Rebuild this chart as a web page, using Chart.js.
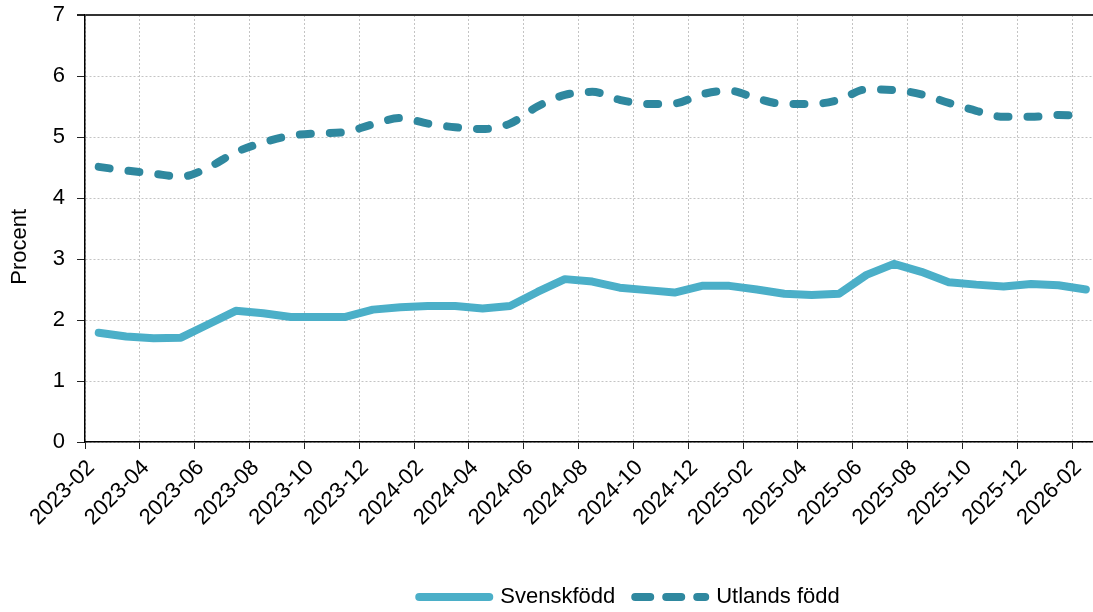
<!DOCTYPE html>
<html>
<head>
<meta charset="utf-8">
<script src="https://cdn.jsdelivr.net/npm/chart.js@4"></script>
<style>
  html, body { margin: 0; padding: 0; background: #fff; }
</style>
</head>
<body>
<canvas id="myChart" width="1093" height="612"></canvas>
<script>
const months = [
  "2023-02", "2023-03", "2023-04", "2023-05", "2023-06", "2023-07", "2023-08", "2023-09",
  "2023-10", "2023-11", "2023-12", "2024-01", "2024-02", "2024-03", "2024-04", "2024-05",
  "2024-06", "2024-07", "2024-08", "2024-09", "2024-10", "2024-11", "2024-12", "2025-01",
  "2025-02", "2025-03", "2025-04", "2025-05", "2025-06", "2025-07", "2025-08", "2025-09",
  "2025-10", "2025-11", "2025-12", "2026-01", "2026-02"
];
const svenskfodd = [
  1.79, 1.73, 1.70, 1.71, 1.93, 2.15, 2.11, 2.05, 2.05, 2.05, 2.17, 2.21, 2.23,
  2.23, 2.19, 2.23, 2.46, 2.67, 2.63, 2.53, 2.49, 2.45, 2.56, 2.56, 2.50, 2.43,
  2.41, 2.43, 2.74, 2.92, 2.79, 2.62, 2.58, 2.55, 2.59, 2.57, 2.50
];
const utlandsFodd = [
  4.51, 4.45, 4.40, 4.35, 4.50, 4.75, 4.91, 5.02, 5.06, 5.08, 5.21, 5.31, 5.22,
  5.16, 5.13, 5.22, 5.50, 5.69, 5.74, 5.61, 5.54, 5.55, 5.70, 5.76, 5.63, 5.54,
  5.54, 5.61, 5.78, 5.77, 5.70, 5.56, 5.43, 5.33, 5.33, 5.36, 5.35
];
const seriesNames = ["Svenskfödd", "Utlands född"];

const font = { family: "'Liberation Sans', Arial, sans-serif", size: 22 };
// each value sits in the middle of its month slot
const toPoints = vals => vals.map((v, i) => ({ x: i + 0.5, y: v }));

const legendDash = [[], [15, 16]];

// nudge the legend to the right and down a bit, like the original
const legendShift = {
  id: "legendShift",
  afterLayout(chart) {
    const lg = chart.legend;
    lg.left += 83;
    lg.right += 83;
    lg.top += 6;
    lg.bottom += 6;
  },
};

const data = {
  datasets: [
    {
      label: seriesNames[0],
      data: toPoints(svenskfodd),
      borderColor: "#4bafc8",
      borderWidth: 8,
      borderCapStyle: "round",
      borderJoinStyle: "round",
      pointRadius: 0,
      tension: 0,
    },
    {
      label: seriesNames[1],
      data: toPoints(utlandsFodd),
      borderColor: "#2f889f",
      borderWidth: 8,
      borderDash: [11, 19],
      borderCapStyle: "round",
      pointRadius: 0,
      cubicInterpolationMode: "monotone",
    },
  ],
};

const config = {
  type: "line",
  data: data,
  plugins: [legendShift],
  options: {
    responsive: false,
    animation: false,
    layout: { padding: { top: 15, right: 0, bottom: 0, left: 0 } },
    plugins: {
      tooltip: { enabled: false },
      legend: {
        position: "bottom",
        labels: {
          usePointStyle: true,
          pointStyle: "line",
          pointStyleWidth: 70,
          boxHeight: 8,
          font: font,
          color: "#000",
          padding: 20,
          generateLabels: (chart) => {
            const items = Chart.defaults.plugins.legend.labels.generateLabels(chart);
            items.forEach((it, i) => {
              it.strokeStyle = chart.data.datasets[i].borderColor;
              it.lineWidth = 8;
              it.lineCap = "round";
              it.lineDash = legendDash[i];
            });
            return items;
          },
        },
      },
    },
    scales: {
      x: {
        type: "linear",
        min: 0,
        max: 36.76,
        afterBuildTicks: (scale) => {
          scale.ticks = months
            .map((m, i) => ({ value: i }))
            .filter((t) => t.value % 2 === 0);
        },
        ticks: {
          autoSkip: false,
          minRotation: 45,
          maxRotation: 45,
          font: font,
          color: "#000",
          padding: 6,
          labelOffset: 6,
          callback: (v) => months[v],
        },
        grid: { color: "#c4c4c4", tickColor: "#222", tickLength: 7 },
        border: { color: "#000", width: 1.5, dash: [2, 2] },
        afterFit: (scale) => {
          scale.height = 118;
          scale.paddingLeft = 0;
          scale.paddingRight = 0;
        },
      },
      y: {
        min: 0,
        max: 7,
        ticks: { stepSize: 1, font: font, color: "#000", padding: 12 },
        title: {
          display: true,
          // trailing spaces push the word a little below the axis middle
          text: "Procent\u00a0\u00a0\u00a0\u00a0\u00a0\u00a0",
          font: font,
          color: "#000",
          padding: { top: 7, bottom: 4 },
        },
        grid: {
          color: (c) => (c.tick && c.tick.value === 7 ? "#333" : "#c4c4c4"),
          lineWidth: (c) => (c.tick && c.tick.value === 7 ? 2 : 1),
          tickColor: "#222",
          tickLength: 8,
        },
        border: {
          color: "#000",
          width: 1.5,
          dash: (c) => (c.tick && c.tick.value === 7 ? [] : [2, 2]),
        },
        afterFit: (scale) => {
          scale.width = 85;
          scale.paddingTop = 0;
          scale.paddingBottom = 0;
        },
      },
    },
  },
};

const ctx = document.getElementById("myChart").getContext("2d");
new Chart(ctx, config);
</script>
</body>
</html>
